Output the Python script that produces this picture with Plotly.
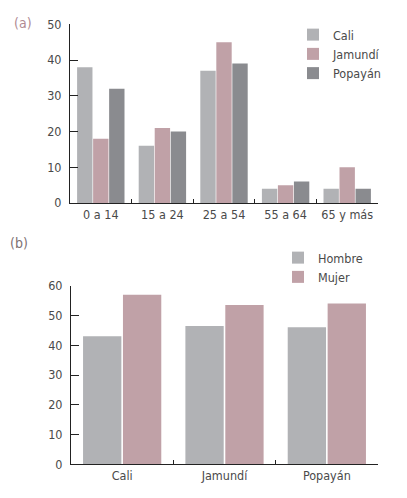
import plotly.graph_objects as go

# (a) grupos de edad por ciudad (%)
edades = ["0 a 14", "15 a 24", "25 a 54", "55 a 64", "65 y más"]
cali = [38, 16, 37, 4, 4]
jamundi = [18, 21, 45, 5, 10]
popayan = [32, 20, 39, 6, 4]

# (b) sexo por ciudad (%)
ciudades = ["Cali", "Jamundí", "Popayán"]
hombre = [43, 46.5, 46]
mujer = [57, 53.5, 54]

GRIS = "#b1b2b5"
ROSA = "#c0a1a7"
OSCURO = "#8a8b8f"
FUENTE = "Liberation Sans Narrow, DejaVu Sans Condensed, Liberation Sans, sans-serif"
TEXTO = "#4a4a4a"

# la página deja 8 px de margen arriba y a la izquierda
OFF = 8
W, H = 407 - OFF, 498 - OFF
ML, MR = 70 - OFF, 29


def papel_x(px):
    return (px - OFF - ML) / (W - ML - MR)


def papel_y(px):
    return 1 - (px - OFF) / H


fig = go.Figure()

fig.add_trace(go.Bar(x=edades, y=cali, name="Cali", marker_color=GRIS,
                     xaxis="x", yaxis="y", legend="legend"))
fig.add_trace(go.Bar(x=edades, y=jamundi, name="Jamundí", marker_color=ROSA,
                     xaxis="x", yaxis="y", legend="legend"))
fig.add_trace(go.Bar(x=edades, y=popayan, name="Popayán", marker_color=OSCURO,
                     xaxis="x", yaxis="y", legend="legend"))

fig.add_trace(go.Bar(x=ciudades, y=hombre, name="Hombre", marker_color=GRIS,
                     xaxis="x2", yaxis="y2", legend="legend2"))
fig.add_trace(go.Bar(x=ciudades, y=mujer, name="Mujer", marker_color=ROSA,
                     xaxis="x2", yaxis="y2", legend="legend2"))

fig.update_traces(marker_line_width=0, hoverinfo="x+y+name")

eje_x = dict(showline=True, linecolor="#222", linewidth=1, ticks="inside",
             tickson="boundaries", ticklen=4, tickcolor="#222", showgrid=False,
             tickangle=0, automargin=False,
             tickfont=dict(family=FUENTE, size=12.5, color=TEXTO), zeroline=False)
eje_y = dict(showline=True, linecolor="#222", linewidth=1, ticks="inside",
             ticklen=8, tickcolor="#222", showgrid=False, zeroline=False,
             automargin=False,
             tickfont=dict(family=FUENTE, size=12.5, color=TEXTO), ticklabelstandoff=5)

leyenda = dict(font=dict(family=FUENTE, size=12.5, color=TEXTO), bgcolor="rgba(0,0,0,0)",
               xanchor="left", yanchor="top", itemclick=False, itemdoubleclick=False,
               itemwidth=30)

fig.update_layout(
    width=W, height=H,
    margin=dict(l=ML, r=MR, t=0, b=0, autoexpand=False),
    paper_bgcolor="white", plot_bgcolor="white",
    barmode="group", bargap=0.22, bargroupgap=0.04,
    font=dict(family=FUENTE, color=TEXTO),
    xaxis=dict(eje_x, domain=[0, 1], anchor="y"),
    yaxis=dict(eje_y, domain=[papel_y(203), papel_y(24.3)], range=[0, 50], dtick=10, anchor="x"),
    xaxis2=dict(eje_x, domain=[papel_x(71), 1], anchor="y2"),
    yaxis2=dict(eje_y, domain=[papel_y(464.3), papel_y(285.7)], range=[0, 60], dtick=10, anchor="x2"),
    legend=dict(leyenda, x=papel_x(293), y=papel_y(20)),
    legend2=dict(leyenda, x=papel_x(278), y=papel_y(243)),
    annotations=[
        dict(text="(a)", x=papel_x(12), y=papel_y(23), xref="paper", yref="paper",
             xanchor="left", yanchor="middle", showarrow=False,
             font=dict(family=FUENTE, size=14, color="#b08a92")),
        dict(text="(b)", x=papel_x(8), y=papel_y(243), xref="paper", yref="paper",
             xanchor="left", yanchor="middle", showarrow=False,
             font=dict(family=FUENTE, size=14, color="#7d7072")),
    ],
)

fig.write_html("out.html")
